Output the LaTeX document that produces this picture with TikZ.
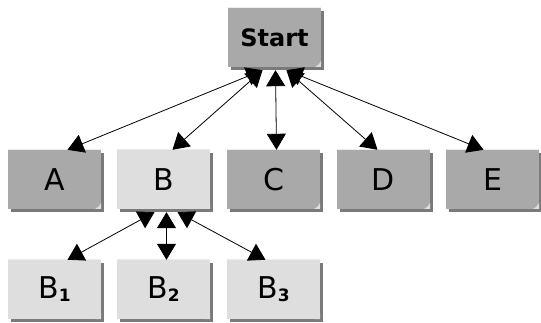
\documentclass[tikz,border=0pt]{standalone}
\usepackage{fontspec}
\setmainfont{DejaVu Sans}
\usetikzlibrary{shadows,calc,arrows.meta}
\definecolor{darkbox}{HTML}{A9A9A9}
\definecolor{lightbox}{HTML}{DEDEDE}
\definecolor{shadowgray}{HTML}{7A7A7A}
\tikzset{
  box/.style={rectangle, minimum width=93pt, minimum height=59pt, inner sep=0pt,
    general shadow={shadow xshift=3pt, shadow yshift=-3pt, fill=shadowgray},
    path picture={\fill[white!75!gray] ([xshift=-6pt]path picture bounding box.south east) -- (path picture bounding box.south east) -- ([yshift=6pt]path picture bounding box.south east) to[bend left=20] cycle;
      \draw[white!85!gray, line width=1pt] (path picture bounding box.north west) -- (path picture bounding box.north east);}},
  darkb/.style={box, fill=darkbox},
  lightb/.style={box, fill=lightbox},
  lbl/.style={font=\fontsize{30}{30}\selectfont},
  conn/.style={line width=0.8pt, {Triangle[length=16pt,width=19pt]}-{Triangle[length=16pt,width=19pt]}},
}
\newcommand{\subdig}[1]{\raisebox{-3pt}{\fontsize{17}{17}\selectfont\bfseries #1}}
\begin{document}
\begin{tikzpicture}[x=1pt,y=-1pt]
\useasboundingbox[fill=white] (0,0) rectangle (541,323);
\node[darkb, font=\fontsize{24}{24}\selectfont\bfseries] (start) at (274.5,37.5) {Start};
\node[darkb, lbl] (a) at (54.5,179.5) {A};
\node[lightb, lbl] (b) at (163.5,179.5) {B};
\node[darkb, lbl] (c) at (273.5,179.5) {C};
\node[darkb, lbl] (d) at (383.5,179.5) {D};
\node[darkb, lbl] (e) at (492.5,179.5) {E};
\node[lightb, lbl] (b1) at (54.5,289.5) {B\subdig{1}};
\node[lightb, lbl] (b2) at (163.5,289.5) {B\subdig{2}};
\node[lightb, lbl] (b3) at (273.5,289.5) {B\subdig{3}};
\draw[conn] ($(start.south)+(-12,3)$) -- ($(a.north)+(13,0)$);
\draw[conn] ($(start.south)+(-12,3)$) -- ($(b.north)+(9,0)$);
\draw[conn] ($(start.south)+(1,3)$) -- ($(c.north)+(3,0)$);
\draw[conn] ($(start.south)+(12,3)$) -- ($(d.north)+(-6,0)$);
\draw[conn] ($(start.south)+(12,3)$) -- ($(e.north)+(-9,0)$);
\draw[conn] ($(b.south)+(-9,3)$) -- ($(b1.north)+(13,0)$);
\draw[conn] ($(b.south)+(3,3)$) -- ($(b2.north)+(3,0)$);
\draw[conn] ($(b.south)+(14,3)$) -- ($(b3.north)+(-8,0)$);
\end{tikzpicture}
\end{document}
